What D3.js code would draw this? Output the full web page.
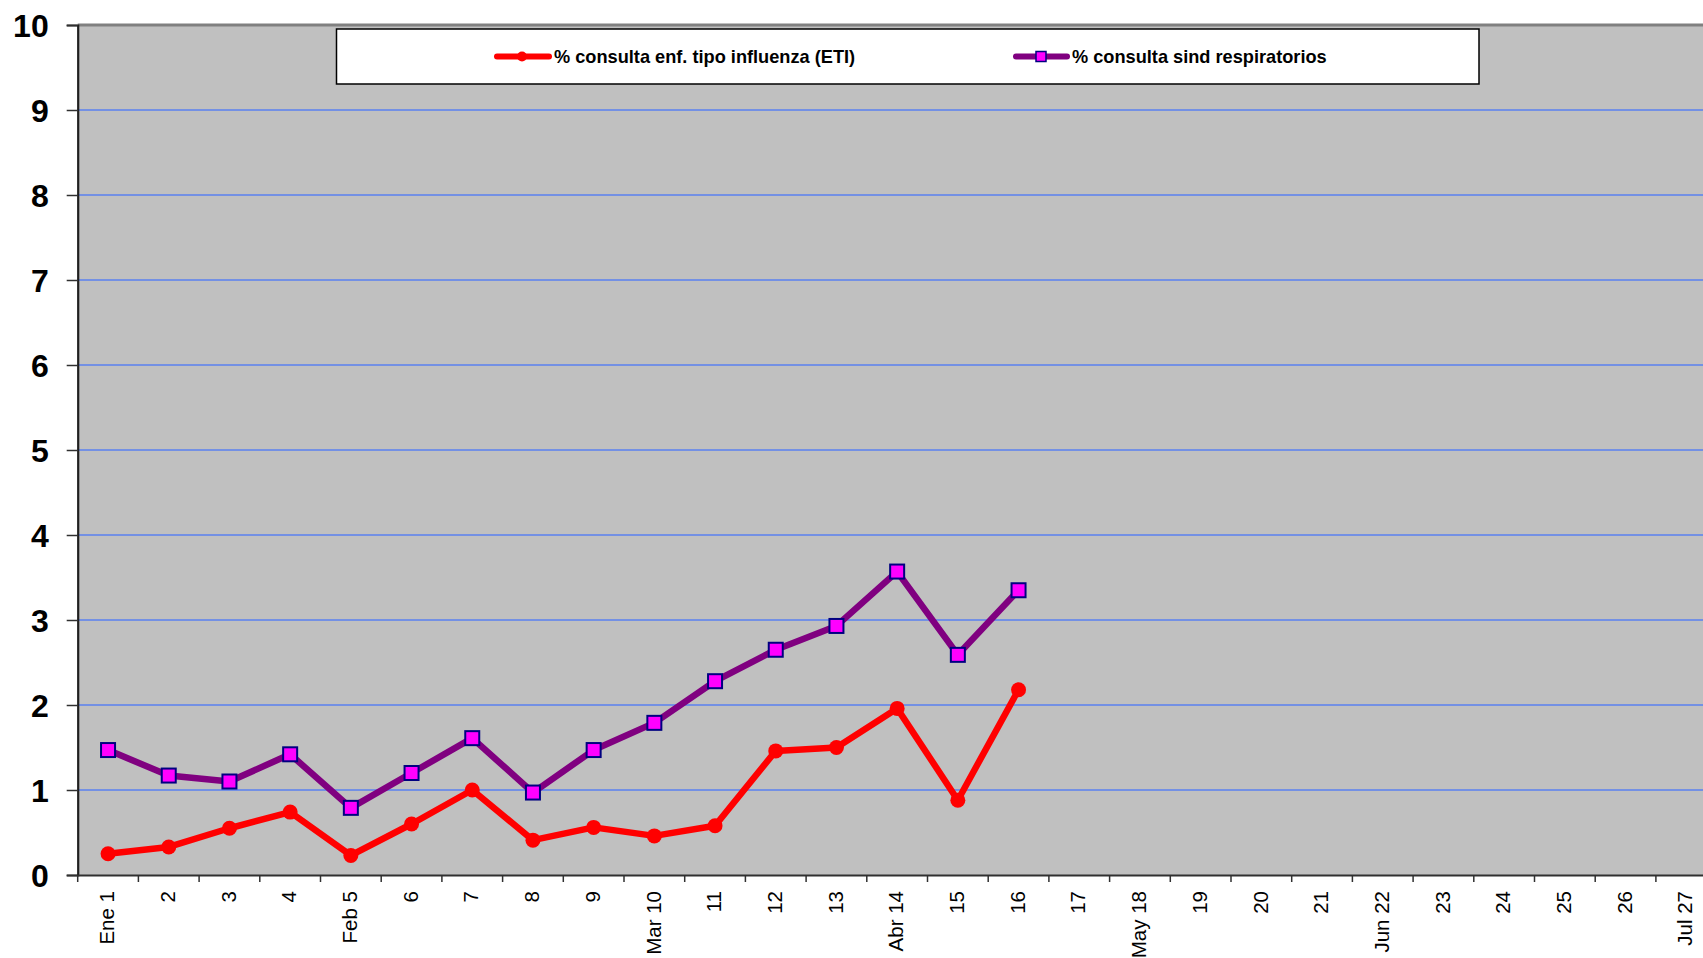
<!DOCTYPE html>
<html>
<head>
<meta charset="utf-8">
<script src="https://cdn.jsdelivr.net/npm/d3@7"></script>
<style>
  html, body { margin: 0; padding: 0; background: #ffffff; overflow: hidden; }
  svg { display: block; }
</style>
</head>
<body>
<svg id="chart" width="1703" height="958"></svg>
<script>
// ---- data ----
const weeks = ["Ene 1","2","3","4","Feb 5","6","7","8","9","Mar 10","11","12","13","Abr 14","15","16","17","May 18","19","20","21","Jun 22","23","24","25","26","Jul 27"];
const etiValues = [0.25, 0.33, 0.55, 0.74, 0.23, 0.60, 1.00, 0.41, 0.56, 0.46, 0.58, 1.46, 1.50, 1.96, 0.88, 2.18];
const respValues = [1.47, 1.17, 1.10, 1.42, 0.79, 1.20, 1.61, 0.97, 1.47, 1.79, 2.28, 2.65, 2.93, 3.57, 2.59, 3.35];
const yTicks = [0,1,2,3,4,5,6,7,8,9,10];
const seriesNames = ["% consulta enf. tipo influenza (ETI)", "% consulta sind respiratorios"];

// ---- layout ----
const svg = d3.select("#chart");
const plotLeft = 77.7, band = 60.7, plotTop = 25, plotBottom = 875;
const x = d3.scaleBand().domain(weeks).range([plotLeft, plotLeft + band * weeks.length]).paddingInner(0).paddingOuter(0);
const y = d3.scaleLinear().domain([0, 10]).range([plotBottom, plotTop]);
const cx = d => x(d) + x.bandwidth() / 2;
const font = "Arial, 'Liberation Sans', sans-serif";

// plot background
svg.append("rect").attr("x", plotLeft).attr("y", plotTop)
  .attr("width", x.range()[1] - plotLeft).attr("height", plotBottom - plotTop)
  .attr("fill", "#c0c0c0");

// grid lines
svg.append("g").selectAll("line").data(yTicks.filter(t => t > 0 && t < 10)).join("line")
  .attr("x1", plotLeft).attr("x2", x.range()[1])
  .attr("y1", d => y(d)).attr("y2", d => y(d))
  .attr("stroke", "#5a80f0").attr("stroke-width", 1.3);

// top border
svg.append("line").attr("x1", plotLeft).attr("x2", x.range()[1]).attr("y1", plotTop).attr("y2", plotTop)
  .attr("stroke", "#808080").attr("stroke-width", 3);

// y axis
const yAxis = d3.axisLeft(y).tickValues(yTicks).tickSize(11).tickPadding(18).tickFormat(d3.format("d"));
const gy = svg.append("g").attr("transform", `translate(${plotLeft},0)`).call(yAxis);
gy.select(".domain").attr("stroke", "#202020").attr("stroke-width", 2.2);
gy.selectAll(".tick line").attr("stroke", "#303030").attr("stroke-width", 1.5);
gy.selectAll(".tick text").attr("font-family", font).attr("font-weight", "bold")
  .attr("font-size", 32).attr("fill", "#000").attr("dy", "0.36em");

// x axis
const xAxis = d3.axisBottom(x).tickSize(0).tickPadding(0);
const gx = svg.append("g").attr("transform", `translate(0,${plotBottom})`).call(xAxis);
gx.select(".domain").attr("stroke", "#303030").attr("stroke-width", 2.2);
gx.selectAll(".tick text")
  .attr("font-family", font).attr("font-size", 20.5).attr("fill", "#000")
  .attr("text-anchor", "end")
  .attr("transform", "translate(-1,16) rotate(-90)")
  .attr("x", 0).attr("y", 0).attr("dy", "0.35em");
// boundary ticks
svg.append("g").selectAll("line").data(d3.range(weeks.length + 1)).join("line")
  .attr("x1", i => plotLeft + i * x.bandwidth()).attr("x2", i => plotLeft + i * x.bandwidth())
  .attr("y1", plotBottom).attr("y2", plotBottom + 7)
  .attr("stroke", "#303030").attr("stroke-width", 1.5);

// series
const etiData = etiValues.map((v, i) => ({ k: weeks[i], v }));
const respData = respValues.map((v, i) => ({ k: weeks[i], v }));
const line = d3.line().x(d => cx(d.k)).y(d => y(d.v));

svg.append("path").datum(respData).attr("d", line)
  .attr("fill", "none").attr("stroke", "#800080").attr("stroke-width", 6.5).attr("stroke-linejoin", "round");
svg.append("path").datum(etiData).attr("d", line)
  .attr("fill", "none").attr("stroke", "#ff0000").attr("stroke-width", 6.5).attr("stroke-linejoin", "round");

svg.append("g").selectAll("circle").data(etiData).join("circle")
  .attr("cx", d => cx(d.k)).attr("cy", d => y(d.v)).attr("r", 7.5).attr("fill", "#ff0000");
svg.append("g").selectAll("rect").data(respData).join("rect")
  .attr("x", d => cx(d.k) - 7).attr("y", d => y(d.v) - 7)
  .attr("width", 14).attr("height", 14)
  .attr("fill", "#ff00ff").attr("stroke", "#000080").attr("stroke-width", 2);

// legend
const lg = svg.append("g");
lg.append("rect").attr("x", 336.5).attr("y", 29).attr("width", 1142.5).attr("height", 55)
  .attr("fill", "#ffffff").attr("stroke", "#000").attr("stroke-width", 1.5);
// item 1
lg.append("line").attr("x1", 497).attr("x2", 549).attr("y1", 56.5).attr("y2", 56.5)
  .attr("stroke", "#ff0000").attr("stroke-width", 6).attr("stroke-linecap", "round");
lg.append("circle").attr("cx", 522).attr("cy", 56.5).attr("r", 5).attr("fill", "#ff0000");
lg.append("text").attr("x", 554).attr("y", 56.5).attr("dy", "0.36em")
  .attr("font-family", font).attr("font-weight", "bold").attr("font-size", 18.2).attr("fill", "#000")
  .text(seriesNames[0]);
// item 2
lg.append("line").attr("x1", 1016).attr("x2", 1067).attr("y1", 56.5).attr("y2", 56.5)
  .attr("stroke", "#800080").attr("stroke-width", 6).attr("stroke-linecap", "round");
lg.append("rect").attr("x", 1036).attr("y", 51.5).attr("width", 10).attr("height", 10)
  .attr("fill", "#ff00ff").attr("stroke", "#000080").attr("stroke-width", 1.5);
lg.append("text").attr("x", 1072).attr("y", 56.5).attr("dy", "0.36em")
  .attr("font-family", font).attr("font-weight", "bold").attr("font-size", 18.2).attr("fill", "#000")
  .text(seriesNames[1]);
</script>
</body>
</html>
